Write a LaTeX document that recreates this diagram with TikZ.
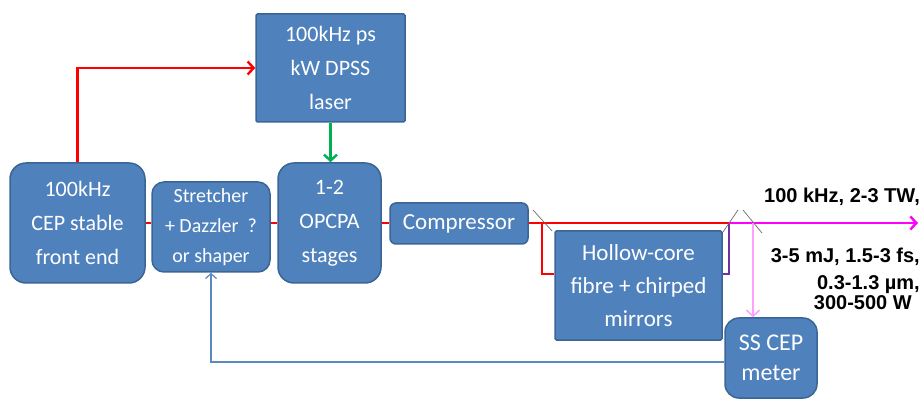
\documentclass[tikz,border=0pt]{standalone}
\usepackage{fontspec}
\setmainfont{Carlito}
\newfontfamily\arialb{Liberation Sans}
\usetikzlibrary{arrows.meta}
\definecolor{boxfill}{HTML}{4F81BD}
\definecolor{boxline}{HTML}{3A6594}
\definecolor{beamred}{HTML}{FF0000}
\definecolor{beamgreen}{HTML}{00B050}
\definecolor{beammag}{HTML}{FF00FF}
\definecolor{beampurple}{HTML}{7030A0}
\definecolor{beampink}{HTML}{FFA0FF}
\definecolor{fbblue}{HTML}{5A8AC0}
\definecolor{mirrorgrey}{HTML}{6A6A6A}
\begin{document}
\begin{tikzpicture}[x=1pt,y=-1pt,
  box/.style={draw=boxline, line width=1.5pt, fill=boxfill, text=white,
    align=center, inner sep=0pt, font=\fontsize{22}{34}\selectfont},
  beam/.style={line width=2.4pt},
  tip/.style={-{Straight Barb[length=6pt,width=13pt]}},
  mirror/.style={draw=mirrorgrey, line width=0.7pt},
  spec/.style={font=\arialb\bfseries\fontsize{20}{24}\selectfont, anchor=base east, inner sep=0pt}
]
\useasboundingbox (0,0) rectangle (921,403);

% boxes
\node[box, minimum width=135pt, minimum height=120pt, rounded corners=16pt] (fe) at (77.5,223) {100kHz\\CEP stable\\front end};
\node[box, minimum width=118pt, minimum height=90pt, rounded corners=12pt, font=\fontsize{20}{30}\selectfont] (st) at (211,227) {Stretcher\\+ Dazzler~ ?\\or shaper};
\node[box, minimum width=103pt, minimum height=120pt, rounded corners=16pt] (op) at (329.5,223) {1-2\\OPCPA\\stages};
\node[box, minimum width=149pt, minimum height=108pt, rounded corners=1.5pt] (dp) at (330.5,68) {100kHz ps\\kW DPSS\\laser};
\node[box, minimum width=138pt, minimum height=41pt, rounded corners=6pt, font=\fontsize{23}{30}\selectfont] (cp) at (459,223.5) {Compressor};
\node[box, minimum width=167pt, minimum height=109pt, rounded corners=1.5pt, font=\fontsize{23}{33}\selectfont] (hc) at (638.5,285.5) {Hollow-core\\fibre + chirped\\mirrors};
\node[box, minimum width=92pt, minimum height=80pt, rounded corners=14pt, font=\fontsize{24}{30}\selectfont] (ss) at (771,358) {SS CEP\\meter};

% beam coordinates
\coordinate (m1) at (542,223);
\coordinate (m2) at (729,223);
\coordinate (m3) at (753,223);
\coordinate (out) at (918,223);

% red beams
\draw[beam, beamred, tip] (fe.north) |- (dp.west);
\draw[beam, beamred] (fe.east) -- (st.west |- fe.east);
\draw[beam, beamred] (st.east |- op.west) -- (op.west);
\draw[beam, beamred] (op.east) -- (cp.west |- op.east);
\draw[beam, beamred] (cp.east |- m1) -- (m2);
\draw[beam, beamred] (m1) |- ([yshift=11.5pt]hc.west);
% purple return
\draw[beam, beampurple] ([yshift=11.5pt]hc.east) -| (m2);
% green pump
\draw[beam, beamgreen, tip] (dp.south) -- (dp.south |- op.north);
% output
\draw[beam, beammag, tip] (m2) -- (out);
% pink pick-off
\draw[line width=1.6pt, beampink, tip] (m3) -- (m3 |- ss.north);
% feedback
\draw[line width=1.2pt, fbblue, -{Straight Barb[length=5pt,width=11pt]}] ([yshift=-4pt]ss.west) -| (st.south);

% mirrors
\draw[mirror] (533,210) -- (552,231);
\draw[mirror] (723,232) -- (738,210);
\draw[mirror] (743,210) -- (762,233);

% output specs
\node[spec] (s1) at (920,203) {100 kHz, 2-3 TW,};
\node[spec] (s2) at (920,263) {3-5 mJ, 1.5-3 fs,};
\node[spec] (s3) at (920,290) {0.3-1.3 µm,};
\node[spec] (s4) at (912,310) {300-500 W};
\end{tikzpicture}
\end{document}
